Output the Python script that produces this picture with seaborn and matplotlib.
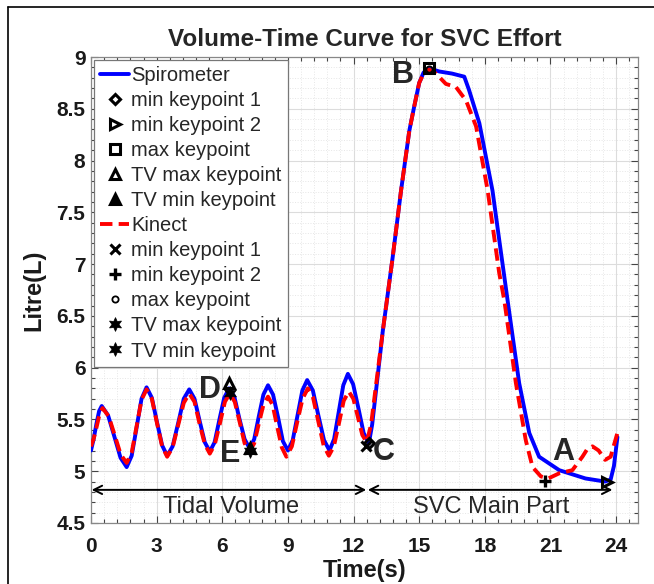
import matplotlib
matplotlib.use("Agg")
import matplotlib.pyplot as plt
from matplotlib.lines import Line2D
from matplotlib.ticker import MultipleLocator
import seaborn as sns

# Spirometer (blue) volume-time curve
spiro_t = [0, 0.12, 0.25, 0.37, 0.49, 0.78, 1.06, 1.35, 1.63, 1.86, 2.09, 2.31, 2.54,
           2.78, 3.01, 3.25, 3.48, 3.73, 3.99, 4.24, 4.49, 4.73, 4.96, 5.2, 5.43,
           5.65, 5.87, 6.09, 6.31, 6.55, 6.78, 7.02, 7.25, 7.46, 7.67, 7.88, 8.09,
           8.32, 8.55, 8.77, 9.0, 9.22, 9.44, 9.66, 9.88, 10.14, 10.39, 10.65, 10.9,
           11.11, 11.32, 11.53, 11.74, 11.98, 12.22, 12.46, 12.7,
           12.85, 13.34, 13.79, 14.17, 14.55, 14.77, 15.0, 15.2, 15.47, 15.92, 16.5,
           17.06, 17.28, 17.75, 18.35, 18.66, 19.04, 19.57, 20.03, 20.48, 21.4,
           22.6, 23.5, 23.75, 23.9, 24.06]
spiro_v = [5.20, 5.31, 5.46, 5.58, 5.63, 5.54, 5.34, 5.13, 5.04, 5.15, 5.43, 5.70, 5.81,
           5.71, 5.48, 5.25, 5.15, 5.24, 5.47, 5.70, 5.79, 5.70, 5.49, 5.28, 5.19,
           5.28, 5.50, 5.71, 5.80, 5.72, 5.51, 5.31, 5.22, 5.31, 5.53, 5.74, 5.83,
           5.74, 5.52, 5.29, 5.20, 5.30, 5.54, 5.78, 5.88, 5.78, 5.54, 5.30, 5.20,
           5.31, 5.57, 5.83, 5.94, 5.84, 5.61, 5.37, 5.27,
           5.45, 6.36, 7.07, 7.71, 8.29, 8.52, 8.75, 8.85, 8.89, 8.86, 8.84,
           8.81, 8.68, 8.36, 7.71, 7.23, 6.65, 5.85, 5.37, 5.14, 5.01,
           4.93, 4.90, 4.92, 5.05, 5.33]

# Kinect (red dashed) volume-time curve
kinect_t = [0, 0.13, 0.27, 0.40, 0.53, 0.81, 1.08, 1.36, 1.63, 1.86, 2.09, 2.31, 2.54,
            2.78, 3.01, 3.25, 3.48, 3.73, 3.99, 4.24, 4.49, 4.73, 4.96, 5.2, 5.43,
            5.66, 5.89, 6.12, 6.34, 6.57, 6.8, 7.02, 7.25, 7.46, 7.67, 7.88, 8.09,
            8.3, 8.51, 8.72, 8.93, 9.18, 9.42, 9.67, 9.91, 10.15, 10.39, 10.63, 10.87,
            11.1, 11.33, 11.55, 11.78, 11.99, 12.19, 12.4, 12.6,
            12.8, 13.34, 13.79, 14.17, 14.55, 14.77, 15.0, 15.2, 15.45, 15.77, 16.22,
            16.68, 17.14, 17.6, 18.13, 18.66, 18.89, 19.42, 19.87, 20.18, 20.56,
            20.9, 21.4, 22.0, 22.46, 22.7, 22.92, 23.2, 23.5, 23.75, 24.06]
kinect_v = [5.24, 5.32, 5.44, 5.56, 5.61, 5.53, 5.35, 5.16, 5.08, 5.18, 5.44, 5.69, 5.79,
            5.70, 5.47, 5.24, 5.14, 5.23, 5.45, 5.66, 5.75, 5.67, 5.46, 5.26, 5.17,
            5.26, 5.46, 5.67, 5.75, 5.67, 5.47, 5.27, 5.19, 5.27, 5.46, 5.64, 5.72,
            5.64, 5.43, 5.23, 5.14, 5.24, 5.47, 5.70, 5.80, 5.71, 5.48, 5.25, 5.15,
            5.24, 5.46, 5.68, 5.77, 5.70, 5.53, 5.35, 5.28,
            5.45, 6.36, 7.07, 7.71, 8.29, 8.52, 8.75, 8.84, 8.88, 8.84, 8.74,
            8.71, 8.58, 8.33, 7.71, 6.91, 6.65, 5.85, 5.30, 5.04, 4.95,
            4.93, 4.98, 5.01, 5.14, 5.22, 5.24, 5.20, 5.11, 5.14, 5.37]

# keypoints: (label, t, v)
spiro_keys = [("min keypoint 1", 12.70, 5.27),
              ("min keypoint 2", 23.60, 4.90),
              ("max keypoint", 15.47, 8.89),
              ("TV max keypoint", 6.31, 5.85),
              ("TV min keypoint", 7.25, 5.22)]
kinect_keys = [("min keypoint 1", 12.58, 5.24),
               ("min keypoint 2", 20.75, 4.91),
               ("max keypoint", 15.45, 8.88),
               ("TV max keypoint", 6.34, 5.76),
               ("TV min keypoint", 7.28, 5.20)]

point_letters = ["A", "B", "C", "D", "E"]
letter_t = [21.6, 14.28, 13.37, 5.43, 6.34]
letter_v = [5.19, 8.83, 5.19, 5.78, 5.17]

phase_names = ["Tidal Volume", "SVC Main Part"]
phase_start = [0.03, 12.65]
phase_end = [12.58, 23.83]
phase_text_t = [6.42, 18.28]


def main():
    sns.set_style("ticks")
    plt.rcParams["font.family"] = ["Liberation Sans", "DejaVu Sans"]

    fig = plt.figure(figsize=(6.54, 5.84), dpi=100)
    ax = fig.add_axes([91 / 654, 61 / 584, 547 / 654, 466 / 584])

    sns.lineplot(x=spiro_t, y=spiro_v, ax=ax, color="#0000ff", lw=2.8,
                 sort=False, estimator=None, label="Spirometer", zorder=3)
    spiro_styles = [dict(marker="D", ms=5.5, mfc="none"),
                    dict(marker=">", ms=7.5, mfc="none"),
                    dict(marker="s", ms=7.5, mfc="none"),
                    dict(marker="^", ms=7.5, mfc="none"),
                    dict(marker="^", ms=7.5, mfc="k")]
    for (lab, t, v), st in zip(spiro_keys, spiro_styles):
        ax.plot([t], [v], ls="none", color="k", mec="k", mew=2.2, label=lab,
                zorder=5, **st)

    sns.lineplot(x=kinect_t, y=kinect_v, ax=ax, color="#ff0000", lw=2.8,
                 sort=False, estimator=None, label="Kinect", zorder=4,
                 linestyle=(0, (3.2, 1.6)))
    kinect_styles = [dict(marker="x", ms=6.5, mew=2.2),
                     dict(marker="+", ms=8.5, mew=2.4),
                     dict(marker="o", ms=4.5, mfc="none", mew=1.3),
                     dict(marker=(6, 1, 0), ms=10, mfc="k", mew=0.5),
                     dict(marker=(6, 1, 0), ms=10, mfc="k", mew=0.5)]
    for (lab, t, v), st in zip(kinect_keys, kinect_styles):
        ax.plot([t], [v], ls="none", color="k", mec="k", label=lab,
                zorder=6, **st)

    for lt, tt, vv in zip(point_letters, letter_t, letter_v):
        ax.text(tt, vv, lt, fontsize=22, fontweight="bold",
                ha="center", va="center", zorder=7)

    arrow_v = 4.82
    for name, a, b, tc in zip(phase_names, phase_start, phase_end, phase_text_t):
        ax.annotate("", xy=(b, arrow_v), xytext=(a, arrow_v),
                    arrowprops=dict(arrowstyle="<->", lw=1.4, color="k",
                                    shrinkA=0, shrinkB=0,
                                    mutation_scale=15))
        ax.text(tc, 4.655, name, fontsize=17, ha="center", va="center")

    ax.set_xlim(0, 25)
    ax.set_ylim(4.5, 9)
    ax.set_xticks(range(0, 25, 3))
    ax.set_yticks([4.5, 5, 5.5, 6, 6.5, 7, 7.5, 8, 8.5, 9])
    ax.set_yticklabels(["4.5", "5", "5.5", "6", "6.5", "7", "7.5", "8", "8.5", "9"])
    ax.xaxis.set_minor_locator(MultipleLocator(0.6))
    ax.yaxis.set_minor_locator(MultipleLocator(0.1))
    ax.tick_params(which="both", direction="in", top=True, right=True,
                   color="#444444", width=0.8)
    ax.tick_params(which="major", length=5, labelsize=15)
    ax.tick_params(axis="x", which="major", pad=10)
    ax.tick_params(axis="y", which="major", pad=4)
    ax.tick_params(which="minor", length=3)
    for lbl in ax.get_xticklabels() + ax.get_yticklabels():
        lbl.set_fontweight("bold")
        lbl.set_color("#1a1a1a")

    ax.grid(which="major", color="#dcdcdc", lw=0.8, ls="-")
    ax.grid(which="minor", color="#e6e6e6", lw=0.7, ls=":")
    ax.set_axisbelow(True)
    for sp in ax.spines.values():
        sp.set_color("#888888")
        sp.set_linewidth(0.9)

    ax.set_xlabel("Time(s)", fontsize=17, fontweight="bold", color="#1a1a1a",
                  labelpad=2)
    ax.set_ylabel("Litre(L)", fontsize=17, fontweight="bold", color="#1a1a1a",
                  labelpad=8)
    ax.set_title("Volume-Time Curve for SVC Effort", fontsize=17.5,
                 fontweight="bold", pad=8)

    handles, labels = ax.get_legend_handles_labels()
    leg = ax.legend(handles, labels, loc="upper left", fontsize=14.5,
                    frameon=True, fancybox=False, framealpha=1,
                    edgecolor="#777777", borderaxespad=0.15,
                    handlelength=1.45, handletextpad=0.1,
                    labelspacing=0.3, borderpad=0.3)
    leg.get_frame().set_linewidth(0.9)
    leg.set_zorder(10)

    # outer frame (left and top edge of the figure panel)
    fig.add_artist(Line2D([8 / 654, 8 / 654], [0, 1 - 7 / 584],
                          transform=fig.transFigure, color="k", lw=1.2))
    fig.add_artist(Line2D([8 / 654, 1], [1 - 7 / 584, 1 - 7 / 584],
                          transform=fig.transFigure, color="k", lw=1.2))

    fig.savefig("out.png", dpi=100)
    plt.close(fig)


if __name__ == "__main__":
    main()
